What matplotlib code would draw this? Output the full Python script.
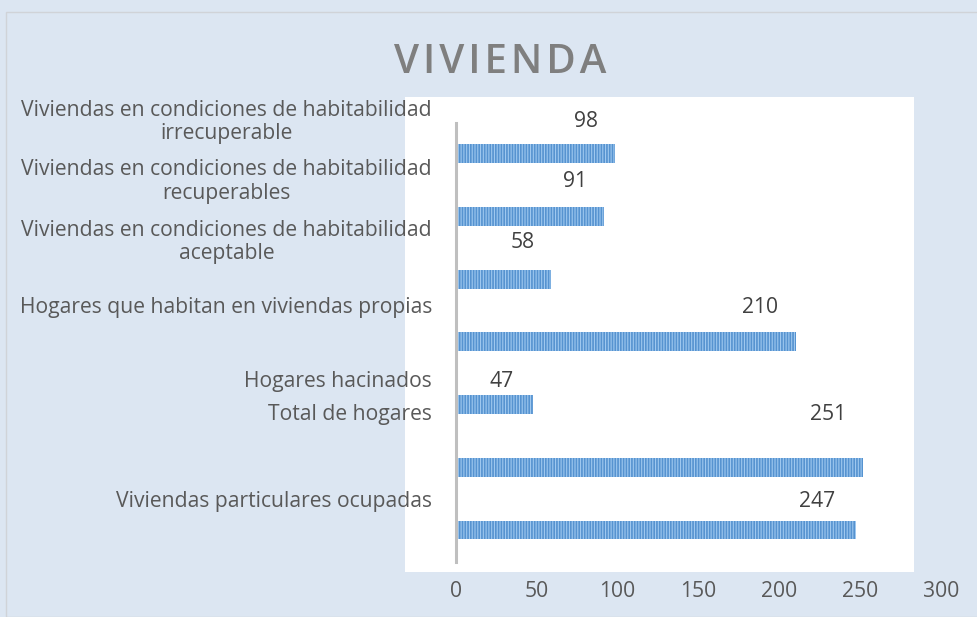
import matplotlib
matplotlib.use("Agg")
import matplotlib.pyplot as plt
from matplotlib.patches import Rectangle

# ---- data (bottom to top) ----
categories = [
    "Viviendas particulares ocupadas",
    "Total de hogares",
    "Hogares hacinados",
    "Hogares que habitan en viviendas propias",
    "Viviendas en condiciones de habitabilidad\naceptable",
    "Viviendas en condiciones de habitabilidad\nrecuperables",
    "Viviendas en condiciones de habitabilidad\nirrecuperable",
]
values = [247, 251, 47, 210, 58, 91, 98]
xticks = [0, 50, 100, 150, 200, 250, 300]
title = "VIVIENDA"

# ---- layout/style (label offsets in pixels, as in the reference) ----
label_dy = [29, 53, 23, 34, 37, 35, 32]
label_dx = [-38, -34, -30, -35, -27, -28, -28]

BG = "#dce6f2"
TXT = "#595959"
FONT = ["Open Sans", "DejaVu Sans"]
FS = 15.2

W, H = 978, 617
fig = plt.figure(figsize=(W / 100, H / 100), dpi=100)
fig.patch.set_facecolor(BG)

# outer frame
fig.patches.append(Rectangle((6 / W, 0), 1.0, 1 - 12 / H, transform=fig.transFigure,
                             facecolor="none", edgecolor="#d0d3d8", linewidth=1.0,
                             zorder=-2))
# white plot background (as in the reference picture)
fig.patches.append(Rectangle((405 / W, 1 - 572 / H), (914 - 405) / W, (572 - 97) / H,
                             transform=fig.transFigure, facecolor="white",
                             edgecolor="none", zorder=-1))

ax = fig.add_axes([456 / W, 1 - 562 / H, (941 - 456) / W, (562 - 123) / H])
ax.set_facecolor("none")
ax.set_zorder(2)

plt.rcParams["hatch.linewidth"] = 1.2
ypos = list(range(len(values)))
ax.barh(ypos, values, height=0.30, left=0.6, color="#9fc8ef", edgecolor="#5693d0",
        hatch="||||||", linewidth=0)

ax.set_xlim(0, 300)
ax.set_ylim(-0.51, 6.49)
ax.set_xticks(xticks)
ax.set_xticklabels([str(t) for t in xticks], fontsize=FS, color=TXT, family=FONT)
ax.set_yticks([])
ax.tick_params(axis="x", length=0, pad=14)
for s in ["top", "right", "bottom"]:
    ax.spines[s].set_visible(False)
ax.spines["left"].set_color("#bfbfbf")
ax.spines["left"].set_linewidth(2.2)

for i, (cat, v) in enumerate(zip(categories, values)):
    ax.annotate(str(v), xy=(v, i), xytext=(label_dx[i], label_dy[i]),
                textcoords="offset pixels", ha="center", va="center",
                fontsize=FS, color="#404040", family=FONT)
    ax.annotate(cat, xy=(0, i), xytext=(-24, label_dy[i]),
                textcoords="offset pixels", ha="right", va="center",
                multialignment="center", fontsize=FS, color=TXT, family=FONT,
                linespacing=1.15, annotation_clip=False)

spaced = "\u200a".join(title)
fig.text(500 / W, 1 - 63 / H, spaced, ha="center", va="center", fontsize=29,
         fontweight="semibold", color="#7f7f7f", family=FONT)

fig.savefig("out.png", dpi=100, facecolor=BG)
